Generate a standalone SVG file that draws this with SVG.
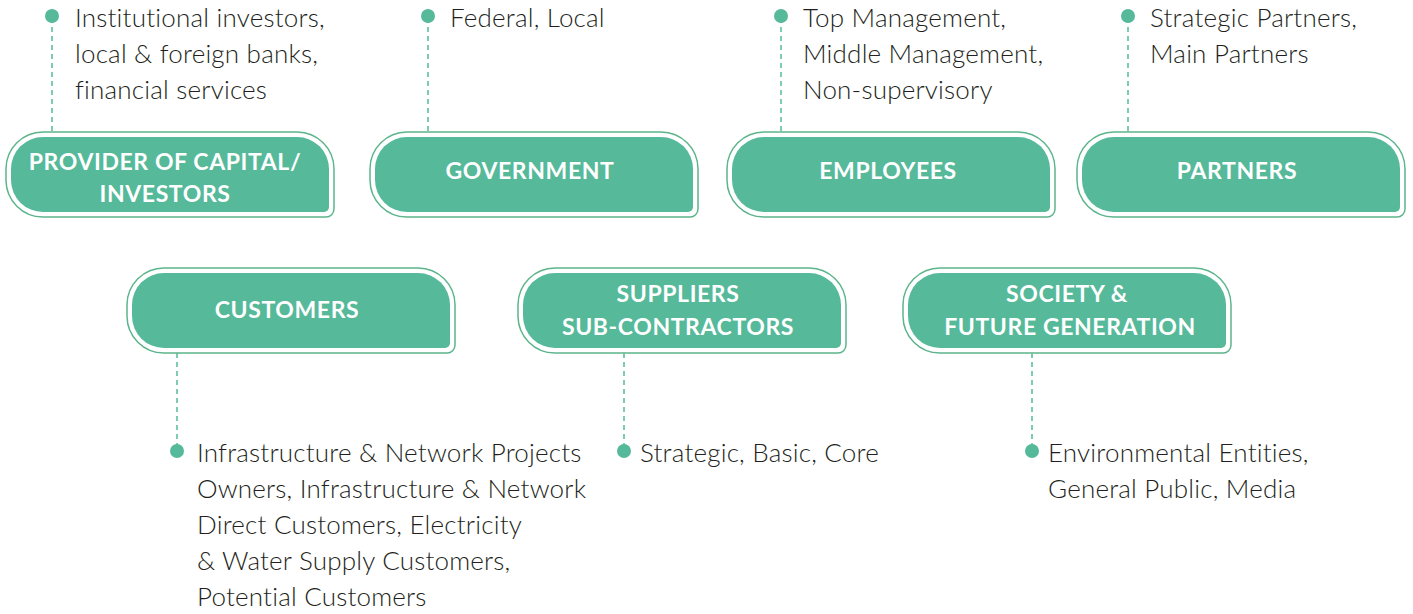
<svg xmlns="http://www.w3.org/2000/svg" xmlns:xlink="http://www.w3.org/1999/xlink" width="1413" height="614" viewBox="0 0 1413 614">
<style>
.outer{fill:#ffffff;stroke:#5cb58c;stroke-width:1.5}
.inner{fill:#55b99a}
.lbl{font-family:Lato,"Open Sans","Liberation Sans",sans-serif;font-weight:700;font-size:23px;letter-spacing:0.6px;fill:#ffffff;text-anchor:middle}
.desc{font-family:Lato,"Open Sans","Liberation Sans",sans-serif;font-weight:300;font-size:26px;letter-spacing:0.2px;fill:#231f20}
.dash{stroke:#55b99a;stroke-width:1.5;stroke-dasharray:5 4;fill:none}
.dot{fill:#55b99a}
</style>
<defs>
<path id="shapeOuter" class="outer" d="M 37 0 H 291 A 37 37 0 0 1 328 37 V 77 A 8 8 0 0 1 320 85 H 37 A 37 37 0 0 1 0 48 V 37 A 37 37 0 0 1 37 0 Z"/>
<path id="shapeInner" class="inner" d="M 37 5 H 291 A 32 32 0 0 1 323 37 V 75 A 5 5 0 0 1 318 80 H 37 A 32 32 0 0 1 5 48 V 37 A 32 32 0 0 1 37 5 Z"/>
</defs>
<g id="connectors">
<line class="dash" x1="52" y1="18" x2="52" y2="132"/>
<line class="dash" x1="428" y1="18" x2="428" y2="132"/>
<line class="dash" x1="781" y1="18" x2="781" y2="132"/>
<line class="dash" x1="1128" y1="18" x2="1128" y2="132"/>
<line class="dash" x1="177" y1="353" x2="177" y2="450"/>
<line class="dash" x1="624" y1="353" x2="624" y2="450"/>
<line class="dash" x1="1032" y1="353" x2="1032" y2="450"/>
<circle class="dot" cx="52" cy="16" r="7"/>
<circle class="dot" cx="428" cy="16" r="7"/>
<circle class="dot" cx="781" cy="16" r="7"/>
<circle class="dot" cx="1128" cy="16" r="7"/>
<circle class="dot" cx="177" cy="451" r="7"/>
<circle class="dot" cx="624" cy="451" r="7"/>
<circle class="dot" cx="1032" cy="451" r="7"/>
</g>
<g id="node-provider">
<use xlink:href="#shapeOuter" href="#shapeOuter" transform="translate(6,132)"/>
<use xlink:href="#shapeInner" href="#shapeInner" transform="translate(6,132)"/>
<text class="lbl" x="165" y="170">PROVIDER OF CAPITAL/</text>
<text class="lbl" x="165" y="202">INVESTORS</text>
</g>
<g id="node-government">
<use xlink:href="#shapeOuter" href="#shapeOuter" transform="translate(370,132)"/>
<use xlink:href="#shapeInner" href="#shapeInner" transform="translate(370,132)"/>
<text class="lbl" x="530" y="179">GOVERNMENT</text>
</g>
<g id="node-employees">
<use xlink:href="#shapeOuter" href="#shapeOuter" transform="translate(727,132)"/>
<use xlink:href="#shapeInner" href="#shapeInner" transform="translate(727,132)"/>
<text class="lbl" x="888" y="179">EMPLOYEES</text>
</g>
<g id="node-partners">
<use xlink:href="#shapeOuter" href="#shapeOuter" transform="translate(1077,132)"/>
<use xlink:href="#shapeInner" href="#shapeInner" transform="translate(1077,132)"/>
<text class="lbl" x="1237" y="179">PARTNERS</text>
</g>
<g id="node-customers">
<use xlink:href="#shapeOuter" href="#shapeOuter" transform="translate(127,268)"/>
<use xlink:href="#shapeInner" href="#shapeInner" transform="translate(127,268)"/>
<text class="lbl" x="287" y="318">CUSTOMERS</text>
</g>
<g id="node-suppliers">
<use xlink:href="#shapeOuter" href="#shapeOuter" transform="translate(518,268)"/>
<use xlink:href="#shapeInner" href="#shapeInner" transform="translate(518,268)"/>
<text class="lbl" x="678" y="302">SUPPLIERS</text>
<text class="lbl" x="678" y="335">SUB-CONTRACTORS</text>
</g>
<g id="node-society">
<use xlink:href="#shapeOuter" href="#shapeOuter" transform="translate(903,268)"/>
<use xlink:href="#shapeInner" href="#shapeInner" transform="translate(903,268)"/>
<text class="lbl" x="1067" y="302">SOCIETY &amp;</text>
<text class="lbl" x="1070" y="335">FUTURE GENERATION</text>
</g>
<g id="desc-provider">
<text class="desc" x="75" y="27">Institutional investors,</text>
<text class="desc" x="75" y="63">local &amp; foreign banks,</text>
<text class="desc" x="75" y="99">financial services</text>
</g>
<g id="desc-government">
<text class="desc" x="450" y="27">Federal, Local</text>
</g>
<g id="desc-employees">
<text class="desc" x="803" y="27">Top Management,</text>
<text class="desc" x="803" y="63">Middle Management,</text>
<text class="desc" x="803" y="99">Non-supervisory</text>
</g>
<g id="desc-partners">
<text class="desc" x="1150" y="27">Strategic Partners,</text>
<text class="desc" x="1150" y="63">Main Partners</text>
</g>
<g id="desc-customers">
<text class="desc" x="197" y="462">Infrastructure &amp; Network Projects</text>
<text class="desc" x="197" y="498">Owners, Infrastructure &amp; Network</text>
<text class="desc" x="197" y="534">Direct Customers, Electricity</text>
<text class="desc" x="197" y="570">&amp; Water Supply Customers,</text>
<text class="desc" x="197" y="606">Potential Customers</text>
</g>
<g id="desc-suppliers">
<text class="desc" x="640" y="462">Strategic, Basic, Core</text>
</g>
<g id="desc-society">
<text class="desc" x="1048" y="462">Environmental Entities,</text>
<text class="desc" x="1048" y="498">General Public, Media</text>
</g>
</svg>
